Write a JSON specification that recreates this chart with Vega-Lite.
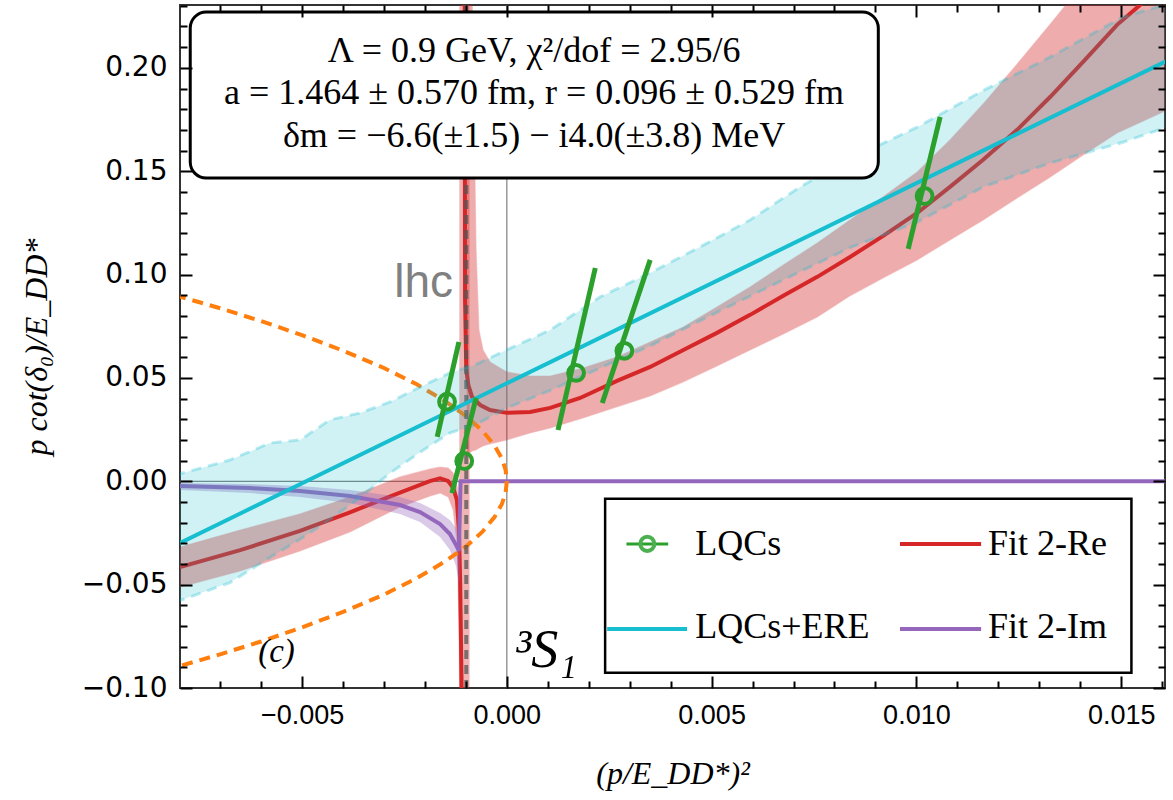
{
  "$schema": "https://vega.github.io/schema/vega-lite/v6.json",
  "width": 985,
  "height": 683,
  "autosize": "none",
  "padding": {"left": 180, "top": 5, "right": 8, "bottom": 112},
  "background": "white",
  "resolve": {"axis": {"x": "independent", "y": "independent"}},
  "config": {
    "view": {"stroke": "#333", "strokeWidth": 2}
  },
  "datasets": {
    "redL": [
      {"x": -0.0081, "y": -0.0420},
      {"x": -0.00798, "y": -0.0415},
      {"x": -0.00651, "y": -0.0333},
      {"x": -0.00505, "y": -0.0240},
      {"x": -0.00383, "y": -0.0150},
      {"x": -0.00261, "y": -0.0055},
      {"x": -0.00188, "y": 0.0001},
      {"x": -0.00163, "y": 0.0014},
      {"x": -0.00144, "y": 0.0002},
      {"x": -0.00131, "y": -0.0032},
      {"x": -0.00122, "y": -0.0090},
      {"x": -0.00117, "y": -0.0236},
      {"x": -0.00114, "y": -0.0477},
      {"x": -0.00112, "y": -0.0768},
      {"x": -0.00109, "y": -0.1200}
    ],
    "redR": [
      {"x": -0.00103, "y": 0.2500},
      {"x": -0.00102, "y": 0.0877},
      {"x": -0.00099, "y": 0.0539},
      {"x": -0.00094, "y": 0.0466},
      {"x": -0.00085, "y": 0.0408},
      {"x": -0.00065, "y": 0.0369},
      {"x": -0.00041, "y": 0.0345},
      {"x": 0.0, "y": 0.0331},
      {"x": 0.00057, "y": 0.0335},
      {"x": 0.00106, "y": 0.0355},
      {"x": 0.00179, "y": 0.0403},
      {"x": 0.00269, "y": 0.0486},
      {"x": 0.0035, "y": 0.0553},
      {"x": 0.00431, "y": 0.0635},
      {"x": 0.00513, "y": 0.0718},
      {"x": 0.00594, "y": 0.0805},
      {"x": 0.00675, "y": 0.0897},
      {"x": 0.00758, "y": 0.0989},
      {"x": 0.00838, "y": 0.1085},
      {"x": 0.00919, "y": 0.1187},
      {"x": 0.01002, "y": 0.1298},
      {"x": 0.01082, "y": 0.1424},
      {"x": 0.01163, "y": 0.1555},
      {"x": 0.01246, "y": 0.1700},
      {"x": 0.01327, "y": 0.1860},
      {"x": 0.01407, "y": 0.2029},
      {"x": 0.0149, "y": 0.2208},
      {"x": 0.01546, "y": 0.2304},
      {"x": 0.01595, "y": 0.2415}
    ],
    "redBandL": [
      {"x": -0.0081, "lo": -0.0520, "hi": -0.0325},
      {"x": -0.00798, "lo": -0.0512, "hi": -0.0318},
      {"x": -0.00651, "lo": -0.0434, "hi": -0.0236},
      {"x": -0.00505, "lo": -0.0337, "hi": -0.0158},
      {"x": -0.00383, "lo": -0.0245, "hi": -0.0076},
      {"x": -0.00261, "lo": -0.0124, "hi": 0.0021},
      {"x": -0.00187, "lo": -0.0071, "hi": 0.0060},
      {"x": -0.00163, "lo": -0.0057, "hi": 0.0069},
      {"x": -0.00143, "lo": -0.0076, "hi": 0.0064},
      {"x": -0.00131, "lo": -0.0139, "hi": 0.0040},
      {"x": -0.00121, "lo": -0.0308, "hi": -0.0028},
      {"x": -0.00117, "lo": -0.0670, "hi": -0.0139},
      {"x": -0.00114, "lo": -0.1200, "hi": -0.0381},
      {"x": -0.00112, "lo": -0.1200, "hi": -0.0770},
      {"x": -0.00109, "lo": -0.1200, "hi": -0.1200}
    ],
    "redBandR": [
      {"x": -0.00097, "lo": 0.0127, "hi": 0.2600},
      {"x": -0.00085, "lo": 0.0147, "hi": 0.2400},
      {"x": -0.00075, "lo": 0.0152, "hi": 0.1119},
      {"x": -0.00068, "lo": 0.0161, "hi": 0.0732},
      {"x": -0.00058, "lo": 0.0171, "hi": 0.0635},
      {"x": -0.00041, "lo": 0.0181, "hi": 0.0577},
      {"x": 0.0, "lo": 0.0200, "hi": 0.0529},
      {"x": 0.00057, "lo": 0.0234, "hi": 0.0509},
      {"x": 0.00106, "lo": 0.0258, "hi": 0.0509},
      {"x": 0.00186, "lo": 0.0306, "hi": 0.0548},
      {"x": 0.00269, "lo": 0.0360, "hi": 0.0601},
      {"x": 0.0035, "lo": 0.0413, "hi": 0.0674},
      {"x": 0.00431, "lo": 0.0481, "hi": 0.0746},
      {"x": 0.00513, "lo": 0.0558, "hi": 0.0843},
      {"x": 0.00594, "lo": 0.0635, "hi": 0.0940},
      {"x": 0.00675, "lo": 0.0713, "hi": 0.1046},
      {"x": 0.00758, "lo": 0.0795, "hi": 0.1153},
      {"x": 0.00838, "lo": 0.0897, "hi": 0.1264},
      {"x": 0.00919, "lo": 0.0984, "hi": 0.1376},
      {"x": 0.01002, "lo": 0.1071, "hi": 0.1496},
      {"x": 0.01082, "lo": 0.1167, "hi": 0.1651},
      {"x": 0.01163, "lo": 0.1264, "hi": 0.1825},
      {"x": 0.01246, "lo": 0.1370, "hi": 0.2018},
      {"x": 0.01327, "lo": 0.1472, "hi": 0.2212},
      {"x": 0.01407, "lo": 0.1578, "hi": 0.2406},
      {"x": 0.0149, "lo": 0.1685, "hi": 0.2600},
      {"x": 0.0165, "lo": 0.1830, "hi": 0.2900}
    ],
    "purpleBand": [
      {"x": -0.0081, "lo": -0.0040, "hi": -0.0007},
      {"x": -0.00798, "lo": -0.0042, "hi": -0.0008},
      {"x": -0.00627, "lo": -0.0057, "hi": -0.0013},
      {"x": -0.00505, "lo": -0.0076, "hi": -0.0023},
      {"x": -0.00383, "lo": -0.0105, "hi": -0.0042},
      {"x": -0.00261, "lo": -0.0158, "hi": -0.0076},
      {"x": -0.00212, "lo": -0.0197, "hi": -0.0105},
      {"x": -0.00163, "lo": -0.0270, "hi": -0.0153},
      {"x": -0.00139, "lo": -0.0333, "hi": -0.0187},
      {"x": -0.00124, "lo": -0.0410, "hi": -0.0226},
      {"x": -0.00117, "lo": -0.0502, "hi": -0.0245},
      {"x": -0.00114, "lo": -0.0450, "hi": -0.0150}
    ],
    "purple": [
      {"x": -0.0081, "y": -0.0022},
      {"x": -0.00627, "y": -0.0033},
      {"x": -0.00505, "y": -0.0047},
      {"x": -0.00383, "y": -0.0071},
      {"x": -0.00261, "y": -0.0115},
      {"x": -0.00212, "y": -0.0149},
      {"x": -0.00163, "y": -0.0207},
      {"x": -0.00139, "y": -0.0255},
      {"x": -0.00124, "y": -0.0308},
      {"x": -0.00117, "y": -0.0337},
      {"x": -0.00113, "y": 0.0},
      {"x": 0.0165, "y": 0.0}
    ],
    "orange": [
      {"i": 0, "x": -0.0081, "y": 0.0900},
      {"i": 1, "x": -0.007, "y": 0.0837},
      {"i": 2, "x": -0.006, "y": 0.0775},
      {"i": 3, "x": -0.005, "y": 0.0707},
      {"i": 4, "x": -0.004, "y": 0.0632},
      {"i": 5, "x": -0.003, "y": 0.0548},
      {"i": 6, "x": -0.0022, "y": 0.0469},
      {"i": 7, "x": -0.0015, "y": 0.0387},
      {"i": 8, "x": -0.001, "y": 0.0316},
      {"i": 9, "x": -0.0006, "y": 0.0245},
      {"i": 10, "x": -0.0003, "y": 0.0173},
      {"i": 11, "x": -0.00012, "y": 0.0110},
      {"i": 12, "x": -0.00003, "y": 0.0055},
      {"i": 13, "x": 0.0, "y": 0.0},
      {"i": 14, "x": -0.00003, "y": -0.0055},
      {"i": 15, "x": -0.00012, "y": -0.0110},
      {"i": 16, "x": -0.0003, "y": -0.0173},
      {"i": 17, "x": -0.0006, "y": -0.0245},
      {"i": 18, "x": -0.001, "y": -0.0316},
      {"i": 19, "x": -0.0015, "y": -0.0387},
      {"i": 20, "x": -0.0022, "y": -0.0469},
      {"i": 21, "x": -0.003, "y": -0.0548},
      {"i": 22, "x": -0.004, "y": -0.0632},
      {"i": 23, "x": -0.005, "y": -0.0707},
      {"i": 24, "x": -0.006, "y": -0.0775},
      {"i": 25, "x": -0.007, "y": -0.0837},
      {"i": 26, "x": -0.0081, "y": -0.0900}
    ],
    "cyanBand": [
      {"x": -0.0081, "lo": -0.0585, "hi": 0.0030},
      {"x": -0.00798, "lo": -0.0577, "hi": 0.0036},
      {"x": -0.00676, "lo": -0.0490, "hi": 0.0103},
      {"x": -0.00578, "lo": -0.0368, "hi": 0.0185},
      {"x": -0.00505, "lo": -0.0280, "hi": 0.0200},
      {"x": -0.00432, "lo": -0.0185, "hi": 0.0297},
      {"x": -0.00359, "lo": -0.0080, "hi": 0.0330},
      {"x": -0.00285, "lo": 0.0040, "hi": 0.0384},
      {"x": -0.00212, "lo": 0.0140, "hi": 0.0456},
      {"x": -0.00139, "lo": 0.0234, "hi": 0.0524},
      {"x": -0.00078, "lo": 0.0272, "hi": 0.0563},
      {"x": 0.0, "lo": 0.0355, "hi": 0.0636},
      {"x": 0.00106, "lo": 0.0440, "hi": 0.0732},
      {"x": 0.00228, "lo": 0.0548, "hi": 0.0892},
      {"x": 0.0035, "lo": 0.0655, "hi": 0.1008},
      {"x": 0.00472, "lo": 0.0777, "hi": 0.1134},
      {"x": 0.00594, "lo": 0.0896, "hi": 0.1264},
      {"x": 0.00716, "lo": 0.1014, "hi": 0.1424},
      {"x": 0.00838, "lo": 0.1130, "hi": 0.1560},
      {"x": 0.01002, "lo": 0.1254, "hi": 0.1713},
      {"x": 0.01163, "lo": 0.1424, "hi": 0.1890},
      {"x": 0.01327, "lo": 0.1540, "hi": 0.2053},
      {"x": 0.01504, "lo": 0.1640, "hi": 0.2246},
      {"x": 0.0165, "lo": 0.1740, "hi": 0.2330}
    ],
    "cyan": [
      {"x": -0.0081, "y": -0.0310},
      {"x": 0.0, "y": 0.0474},
      {"x": 0.0165, "y": 0.2071}
    ],
    "lqcs": [
      {"x": -0.00146, "y": 0.0385, "xa": -0.0017, "ya": 0.0215, "xb": -0.00117, "yb": 0.0674},
      {"x": -0.00104, "y": 0.0098, "xa": -0.00134, "ya": -0.0057, "xb": -0.00075, "yb": 0.0403},
      {"x": 0.00169, "y": 0.0524, "xa": 0.00125, "ya": 0.0248, "xb": 0.00216, "yb": 0.1032},
      {"x": 0.00287, "y": 0.0631, "xa": 0.00233, "ya": 0.0379, "xb": 0.0035, "yb": 0.1071},
      {"x": 0.0102, "y": 0.1380, "xa": 0.0098, "ya": 0.1124, "xb": 0.01058, "yb": 0.1763}
    ]
  },
  "layer": [
    {
      "data": {"values": [{}]},
      "mark": {"type": "rule", "color": "#808080", "strokeWidth": 1.2},
      "encoding": {"y": {"datum": 0, "type": "quantitative", "axis": null}}
    },
    {
      "data": {"values": [{}]},
      "mark": {"type": "rule", "color": "#808080", "strokeWidth": 1.2},
      "encoding": {"x": {"datum": 0, "type": "quantitative", "axis": null}}
    },
    {
      "data": {"name": "redBandL"},
      "mark": {"type": "area", "clip": true, "color": "#d62728", "opacity": 0.38, "stroke": "#d62728", "strokeOpacity": 0.5, "strokeWidth": 1.2},
      "encoding": {
        "x": {"field": "x", "type": "quantitative", "axis": null},
        "y": {"field": "lo", "type": "quantitative", "axis": null},
        "y2": {"field": "hi"}
      }
    },
    {
      "data": {"name": "redBandR"},
      "mark": {"type": "area", "clip": true, "color": "#d62728", "opacity": 0.38, "stroke": "#d62728", "strokeOpacity": 0.5, "strokeWidth": 1.2},
      "encoding": {
        "x": {"field": "x", "type": "quantitative", "axis": null},
        "y": {"field": "lo", "type": "quantitative", "axis": null},
        "y2": {"field": "hi"}
      }
    },
    {
      "data": {"values": [{}]},
      "mark": {"type": "rect", "clip": true, "color": "#d62728", "opacity": 0.35},
      "encoding": {
        "x": {"datum": -0.00116, "type": "quantitative", "axis": null},
        "x2": {"datum": -0.00091},
        "y": {"datum": -0.1, "type": "quantitative", "axis": null},
        "y2": {"datum": 0.2304}
      }
    },
    {
      "data": {"name": "redL"},
      "mark": {"type": "line", "clip": true, "color": "#d62728", "strokeWidth": 4},
      "encoding": {
        "x": {"field": "x", "type": "quantitative", "axis": null},
        "y": {"field": "y", "type": "quantitative", "axis": null}
      }
    },
    {
      "data": {"name": "redR"},
      "mark": {"type": "line", "clip": true, "color": "#d62728", "strokeWidth": 4},
      "encoding": {
        "x": {"field": "x", "type": "quantitative", "axis": null},
        "y": {"field": "y", "type": "quantitative", "axis": null}
      }
    },
    {
      "data": {"name": "purpleBand"},
      "mark": {"type": "area", "clip": true, "color": "#9467bd", "opacity": 0.35},
      "encoding": {
        "x": {"field": "x", "type": "quantitative", "axis": null},
        "y": {"field": "lo", "type": "quantitative", "axis": null},
        "y2": {"field": "hi"}
      }
    },
    {
      "data": {"name": "purple"},
      "mark": {"type": "line", "clip": true, "color": "#9467bd", "strokeWidth": 4},
      "encoding": {
        "x": {"field": "x", "type": "quantitative", "axis": null},
        "y": {"field": "y", "type": "quantitative", "axis": null}
      }
    },
    {
      "data": {"name": "orange"},
      "mark": {"type": "line", "clip": true, "color": "#ff7f0e", "strokeWidth": 4, "strokeDash": [11, 7]},
      "encoding": {
        "x": {"field": "x", "type": "quantitative", "axis": null},
        "y": {"field": "y", "type": "quantitative", "axis": null},
        "order": {"field": "i", "type": "quantitative"}
      }
    },
    {
      "data": {"values": [{}]},
      "mark": {"type": "rule", "color": "#555", "opacity": 0.75, "strokeWidth": 4, "strokeDash": [9, 6]},
      "encoding": {"x": {"datum": -0.00099, "type": "quantitative", "axis": null}}
    },
    {
      "data": {"name": "cyanBand"},
      "mark": {"type": "area", "clip": true, "color": "#17becf", "opacity": 0.2},
      "encoding": {
        "x": {"field": "x", "type": "quantitative", "axis": null},
        "y": {"field": "lo", "type": "quantitative", "axis": null},
        "y2": {"field": "hi"}
      }
    },
    {
      "data": {"name": "cyanBand"},
      "mark": {"type": "line", "clip": true, "color": "#17becf", "opacity": 0.3, "strokeWidth": 3, "strokeDash": [10, 7]},
      "encoding": {
        "x": {"field": "x", "type": "quantitative", "axis": null},
        "y": {"field": "lo", "type": "quantitative", "axis": null}
      }
    },
    {
      "data": {"name": "cyanBand"},
      "mark": {"type": "line", "clip": true, "color": "#17becf", "opacity": 0.3, "strokeWidth": 3, "strokeDash": [10, 7]},
      "encoding": {
        "x": {"field": "x", "type": "quantitative", "axis": null},
        "y": {"field": "hi", "type": "quantitative", "axis": null}
      }
    },
    {
      "data": {"name": "cyan"},
      "mark": {"type": "line", "clip": true, "color": "#17becf", "strokeWidth": 4},
      "encoding": {
        "x": {"field": "x", "type": "quantitative", "axis": null},
        "y": {"field": "y", "type": "quantitative", "axis": null}
      }
    },
    {
      "data": {"name": "lqcs"},
      "mark": {"type": "rule", "clip": true, "color": "#2ca02c", "strokeWidth": 5},
      "encoding": {
        "x": {"field": "xa", "type": "quantitative", "axis": null},
        "y": {"field": "ya", "type": "quantitative", "axis": null},
        "x2": {"field": "xb"},
        "y2": {"field": "yb"}
      }
    },
    {
      "data": {"name": "lqcs"},
      "mark": {"type": "point", "shape": "circle", "filled": false, "color": "#2ca02c", "strokeWidth": 4, "size": 250, "opacity": 1},
      "encoding": {
        "x": {"field": "x", "type": "quantitative", "axis": null},
        "y": {"field": "y", "type": "quantitative", "axis": null}
      }
    },
    {
      "data": {"values": [{}]},
      "mark": {"type": "rect", "fill": "white", "stroke": "#000", "strokeWidth": 3, "cornerRadius": 16},
      "encoding": {
        "x": {"datum": -0.00773, "type": "quantitative", "axis": null},
        "x2": {"datum": 0.00907},
        "y": {"datum": 0.2270, "type": "quantitative", "axis": null},
        "y2": {"datum": 0.1467}
      }
    },
    {
      "data": {"values": [{}]},
      "mark": {"type": "text", "font": "Liberation Serif", "fontSize": 36, "align": "center", "baseline": "alphabetic", "lineHeight": 42.5, "color": "#000",
        "text": ["Λ = 0.9 GeV, χ²/dof = 2.95/6", "a = 1.464 ± 0.570 fm, r = 0.096 ± 0.529 fm", "δm = −6.6(±1.5) − i4.0(±3.8) MeV"]},
      "encoding": {
        "x": {"datum": 0.000665, "type": "quantitative", "axis": null},
        "y": {"datum": 0.2029, "type": "quantitative", "axis": null}
      }
    },
    {
      "data": {"values": [{}]},
      "mark": {"type": "text", "font": "Liberation Sans", "fontSize": 46, "align": "left", "baseline": "alphabetic", "color": "#808080", "text": "lhc"},
      "encoding": {
        "x": {"datum": -0.00275, "type": "quantitative", "axis": null},
        "y": {"datum": 0.0892, "type": "quantitative", "axis": null}
      }
    },
    {
      "data": {"values": [{}]},
      "mark": {"type": "text", "font": "Liberation Serif", "fontSize": 33, "fontStyle": "italic", "align": "left", "baseline": "alphabetic", "color": "#000", "text": "(c)"},
      "encoding": {
        "x": {"datum": -0.00607, "type": "quantitative", "axis": null},
        "y": {"datum": -0.0874, "type": "quantitative", "axis": null}
      }
    },
    {
      "data": {"values": [{}]},
      "mark": {"type": "text", "font": "Liberation Serif", "fontSize": 54, "fontStyle": "italic", "align": "left", "baseline": "alphabetic", "color": "#000", "text": "³S₁"},
      "encoding": {
        "x": {"datum": 0.0002, "type": "quantitative", "axis": null},
        "y": {"datum": -0.0898, "type": "quantitative", "axis": null}
      }
    },
    {
      "data": {"values": [{}]},
      "mark": {"type": "rect", "fill": "white", "stroke": "#000", "strokeWidth": 2.5},
      "encoding": {
        "x": {"datum": 0.0024, "type": "quantitative", "axis": null},
        "x2": {"datum": 0.01525},
        "y": {"datum": -0.0084, "type": "quantitative", "axis": null},
        "y2": {"datum": -0.0926}
      }
    },
    {
      "data": {"values": [{}]},
      "mark": {"type": "rule", "color": "#2ca02c", "strokeWidth": 3},
      "encoding": {
        "x": {"datum": 0.00292, "type": "quantitative", "axis": null},
        "x2": {"datum": 0.00394},
        "y": {"datum": -0.0303, "type": "quantitative", "axis": null}
      }
    },
    {
      "data": {"values": [{}]},
      "mark": {"type": "point", "shape": "circle", "filled": false, "color": "#4caf50", "strokeWidth": 4, "size": 200, "opacity": 1},
      "encoding": {
        "x": {"datum": 0.00343, "type": "quantitative", "axis": null},
        "y": {"datum": -0.0303, "type": "quantitative", "axis": null}
      }
    },
    {
      "data": {"values": [{}]},
      "mark": {"type": "rule", "color": "#d62728", "strokeWidth": 4},
      "encoding": {
        "x": {"datum": 0.0096, "type": "quantitative", "axis": null},
        "x2": {"datum": 0.01158},
        "y": {"datum": -0.0303, "type": "quantitative", "axis": null}
      }
    },
    {
      "data": {"values": [{}]},
      "mark": {"type": "rule", "color": "#17becf", "strokeWidth": 4},
      "encoding": {
        "x": {"datum": 0.00245, "type": "quantitative", "axis": null},
        "x2": {"datum": 0.0044},
        "y": {"datum": -0.0715, "type": "quantitative", "axis": null}
      }
    },
    {
      "data": {"values": [{}]},
      "mark": {"type": "rule", "color": "#9467bd", "strokeWidth": 4},
      "encoding": {
        "x": {"datum": 0.0096, "type": "quantitative", "axis": null},
        "x2": {"datum": 0.01158},
        "y": {"datum": -0.0715, "type": "quantitative", "axis": null}
      }
    },
    {
      "data": {"values": [{}]},
      "mark": {"type": "text", "font": "Liberation Serif", "fontSize": 36, "align": "left", "baseline": "alphabetic", "lineHeight": 83, "color": "#000", "text": ["LQCs", "LQCs+ERE"]},
      "encoding": {
        "x": {"datum": 0.0046, "type": "quantitative", "axis": null},
        "y": {"datum": -0.0356, "type": "quantitative", "axis": null}
      }
    },
    {
      "data": {"values": [{}]},
      "mark": {"type": "text", "font": "Liberation Serif", "fontSize": 36, "align": "left", "baseline": "alphabetic", "lineHeight": 83, "color": "#000", "text": ["Fit 2-Re", "Fit 2-Im"]},
      "encoding": {
        "x": {"datum": 0.01175, "type": "quantitative", "axis": null},
        "y": {"datum": -0.0356, "type": "quantitative", "axis": null}
      }
    },
    {
      "data": {"name": "lqcs"},
      "mark": {"type": "point", "opacity": 0},
      "encoding": {
        "x": {"field": "x", "type": "quantitative",
          "scale": {"domain": [-0.00798, 0.01607], "nice": false, "zero": false},
          "axis": {"orient": "bottom", "values": [-0.005, 0, 0.005, 0.01, 0.015], "format": ".3f", "grid": false, "domain": false, "ticks": true, "tickSize": -12, "tickColor": "#000", "tickWidth": 2, "zindex": 1, "labelPadding": 26,
            "labelFont": "Liberation Sans Narrow, Liberation Sans", "labelFontSize": 27, "labelColor": "#000",
            "title": "(p/E_DD*)²", "titleFont": "Liberation Serif", "titleFontStyle": "italic", "titleFontWeight": "normal", "titleFontSize": 32, "titleColor": "#000", "titlePadding": 30}},
        "y": {"field": "y", "type": "quantitative",
          "scale": {"domain": [-0.1, 0.2304], "nice": false, "zero": false},
          "axis": {"orient": "left", "values": [-0.1, -0.05, 0, 0.05, 0.1, 0.15, 0.2], "format": ".2f", "grid": false, "domain": false, "ticks": true, "tickSize": -12, "tickColor": "#000", "tickWidth": 2, "zindex": 1, "labelPadding": 25,
            "labelFont": "DejaVu Sans", "labelFontSize": 28, "labelColor": "#000",
            "title": "p cot(δ₀)/E_DD*", "titleFont": "Liberation Serif", "titleFontStyle": "italic", "titleFontWeight": "normal", "titleFontSize": 32, "titleColor": "#000", "titlePadding": 28}}
      }
    },
    {
      "data": {"name": "lqcs"},
      "mark": {"type": "point", "opacity": 0},
      "encoding": {
        "x": {"field": "x", "type": "quantitative",
          "axis": {"orient": "top", "values": [-0.005, 0, 0.005, 0.01, 0.015], "labels": false, "grid": false, "domain": false, "ticks": true, "tickSize": -12, "tickColor": "#000", "tickWidth": 2, "zindex": 1, "title": null}},
        "y": {"field": "y", "type": "quantitative",
          "axis": {"orient": "right", "values": [-0.1, -0.05, 0, 0.05, 0.1, 0.15, 0.2], "labels": false, "grid": false, "domain": false, "ticks": true, "tickSize": -12, "tickColor": "#000", "tickWidth": 2, "zindex": 1, "title": null}}
      }
    },
    {
      "data": {"name": "lqcs"},
      "mark": {"type": "point", "opacity": 0},
      "encoding": {
        "x": {"field": "x", "type": "quantitative",
          "axis": {"orient": "bottom", "values": [-0.007, -0.006, -0.004, -0.003, -0.002, -0.001, 0.001, 0.002, 0.003, 0.004, 0.006, 0.007, 0.008, 0.009, 0.011, 0.012, 0.013, 0.014, 0.016], "labels": false, "grid": false, "domain": false, "ticks": true, "tickSize": -7, "tickColor": "#000", "tickWidth": 2, "zindex": 1, "title": null}},
        "y": {"field": "y", "type": "quantitative",
          "axis": {"orient": "left", "values": [-0.09, -0.08, -0.07, -0.06, -0.04, -0.03, -0.02, -0.01, 0.01, 0.02, 0.03, 0.04, 0.06, 0.07, 0.08, 0.09, 0.11, 0.12, 0.13, 0.14, 0.16, 0.17, 0.18, 0.19, 0.21, 0.22, 0.23], "labels": false, "grid": false, "domain": false, "ticks": true, "tickSize": -7, "tickColor": "#000", "tickWidth": 2, "zindex": 1, "title": null}}
      }
    },
    {
      "data": {"name": "lqcs"},
      "mark": {"type": "point", "opacity": 0},
      "encoding": {
        "x": {"field": "x", "type": "quantitative",
          "axis": {"orient": "top", "values": [-0.007, -0.006, -0.004, -0.003, -0.002, -0.001, 0.001, 0.002, 0.003, 0.004, 0.006, 0.007, 0.008, 0.009, 0.011, 0.012, 0.013, 0.014, 0.016], "labels": false, "grid": false, "domain": false, "ticks": true, "tickSize": -7, "tickColor": "#000", "tickWidth": 2, "zindex": 1, "title": null}},
        "y": {"field": "y", "type": "quantitative",
          "axis": {"orient": "right", "values": [-0.09, -0.08, -0.07, -0.06, -0.04, -0.03, -0.02, -0.01, 0.01, 0.02, 0.03, 0.04, 0.06, 0.07, 0.08, 0.09, 0.11, 0.12, 0.13, 0.14, 0.16, 0.17, 0.18, 0.19, 0.21, 0.22, 0.23], "labels": false, "grid": false, "domain": false, "ticks": true, "tickSize": -7, "tickColor": "#000", "tickWidth": 2, "zindex": 1, "title": null}}
      }
    }
  ]
}
